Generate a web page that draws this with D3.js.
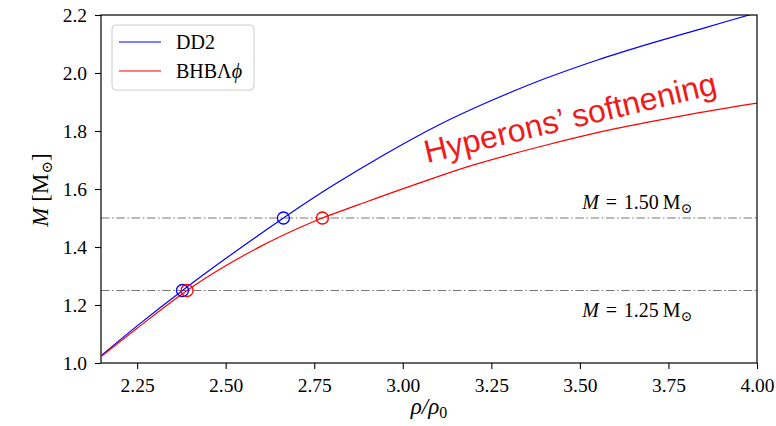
<!DOCTYPE html>
<meta charset="utf-8">
<style>
body { margin: 0; background: #fff; }
text { font-family: "Liberation Serif", "DejaVu Serif", serif; fill: #000; }
.legendLabel { font-size: 20px; }
.refLabel { font-size: 20px; }
.annot { font-family: "Liberation Sans", Arial, sans-serif; font-size: 32px; fill: #f01a1a; }
</style>
<svg width="776" height="426"></svg>
<script src="https://cdn.jsdelivr.net/npm/d3@7"></script>
<script>

// DD2 curve (rho/rho0, M)
const rhoDD2  = [2.15, 2.25, 2.378, 2.50, 2.663, 2.80, 2.95, 3.10, 3.25, 3.40, 3.55, 3.70, 3.85, 4.00];
const massDD2 = [1.027, 1.128, 1.25, 1.36, 1.50, 1.61, 1.72, 1.82, 1.905, 1.98, 2.045, 2.102, 2.155, 2.208];

// BHB Lambda phi curve
const rhoBHB  = [2.15, 2.25, 2.391, 2.50, 2.60, 2.70, 2.773, 2.90, 3.05, 3.20, 3.40, 3.60, 3.80, 4.00];
const massBHB = [1.024, 1.12, 1.25, 1.335, 1.403, 1.462, 1.50, 1.557, 1.622, 1.683, 1.750, 1.808, 1.855, 1.896];

// open circles where each curve crosses the reference masses
const markRhoDD2 = [2.378, 2.663];
const markRhoBHB = [2.391, 2.773];
const refMasses = [1.25, 1.50];
const refLabels = ["1.25", "1.50"];

const xTicks = [2.25, 2.50, 2.75, 3.00, 3.25, 3.50, 3.75, 4.00];
const yTicks = [1.0, 1.2, 1.4, 1.6, 1.8, 2.0, 2.2];

const svg = d3.select("svg");
const pLeft = 101, pRight = 757, pTop = 15, pBottom = 363;

const x = d3.scaleLinear().domain([2.148, 4.0]).range([pLeft, pRight]);
const y = d3.scaleLinear().domain([1.0, 2.2]).range([pBottom, pTop]);

svg.append("defs").append("clipPath").attr("id", "plotClip")
  .append("rect")
    .attr("x", pLeft).attr("y", pTop)
    .attr("width", pRight - pLeft).attr("height", pBottom - pTop);

const line = d3.line()
    .x(d => x(d[0]))
    .y(d => y(d[1]))
    .curve(d3.curveCatmullRom.alpha(0.5));

const plot = svg.append("g").attr("clip-path", "url(#plotClip)");

// dash-dot reference lines
plot.selectAll(".refLine")
    .data(refMasses)
    .enter().append("line")
    .attr("x1", pLeft).attr("x2", pRight)
    .attr("y1", d => y(d)).attr("y2", d => y(d))
    .attr("stroke", "#777")
    .attr("stroke-width", 1.1)
    .attr("stroke-dasharray", "8.5,2.6,1.6,2.6");

const series = [
  {rho: rhoDD2, m: massDD2, marks: markRhoDD2, color: "#0000ff"},
  {rho: rhoBHB, m: massBHB, marks: markRhoBHB, color: "#ff0000"}
];

series.forEach(s => {
  plot.append("path")
      .attr("d", line(s.rho.map((r, i) => [r, s.m[i]])))
      .attr("fill", "none")
      .attr("stroke", s.color)
      .attr("stroke-width", 1.2);
});

series.forEach(s => {
  plot.selectAll(null)
      .data(s.marks)
      .enter().append("circle")
      .attr("cx", d => x(d))
      .attr("cy", (d, i) => y(refMasses[i]))
      .attr("r", 6)
      .attr("fill", "none")
      .attr("stroke", s.color)
      .attr("stroke-width", 1.3);
});

// axes
const serif = "'Liberation Serif', 'DejaVu Serif', serif";
svg.append("g")
    .attr("class", "axis")
    .attr("transform", `translate(0,${pBottom})`)
    .call(d3.axisBottom(x).tickValues(xTicks).tickFormat(d3.format(".2f")).tickSize(6).tickPadding(9));
svg.append("g")
    .attr("class", "axis")
    .attr("transform", `translate(${pLeft},0)`)
    .call(d3.axisLeft(y).tickValues(yTicks).tickFormat(d3.format(".1f")).tickSize(6).tickPadding(8));
svg.selectAll(".axis").attr("font-family", serif).attr("font-size", 19.5);
svg.selectAll(".axis .domain").remove();
svg.selectAll(".axis .tick line").attr("stroke", "#000").attr("stroke-width", 1.1);
svg.selectAll(".axis .tick text")
    .style("font-family", serif)
    .style("font-size", "19.5px")
    .attr("fill", "#000");

// frame
svg.append("rect")
    .attr("x", pLeft).attr("y", pTop)
    .attr("width", pRight - pLeft).attr("height", pBottom - pTop)
    .attr("fill", "none")
    .attr("stroke", "#000")
    .attr("stroke-width", 1.2);

// reference line labels
refMasses.forEach((m, i) => {
  const t = svg.append("text")
      .attr("class", "refLabel")
      .attr("x", x(3.662))
      .attr("y", i === 0 ? y(1.16) : y(1.53))
      .attr("text-anchor", "middle");
  t.append("tspan").attr("font-style", "italic").text("M");
  t.append("tspan").text("\u2004=\u2004" + refLabels[i] + "\u2009M");
  t.append("tspan").attr("font-size", "14px").attr("dy", 4).text("\u2299");
});

// axis labels
const xl = svg.append("text")
    .attr("x", (pLeft + pRight) / 2)
    .attr("y", 414)
    .attr("text-anchor", "middle")
    .attr("font-size", "23px");
xl.append("tspan").attr("font-style", "italic").text("\u03c1/\u03c1");
xl.append("tspan").attr("font-size", "16px").attr("dy", 4).text("0");

const yl = svg.append("text")
    .attr("transform", "translate(48,190) rotate(-90)")
    .attr("text-anchor", "middle")
    .attr("font-size", "23px");
yl.append("tspan").attr("font-style", "italic").text("M");
yl.append("tspan").text(" [M");
yl.append("tspan").attr("font-size", "15px").attr("dy", 4).text("\u2299");
yl.append("tspan").attr("dy", -4).text("]");

// legend
const legend = svg.append("g");
legend.append("rect")
    .attr("x", 112).attr("y", 25)
    .attr("width", 142).attr("height", 65)
    .attr("rx", 4)
    .attr("fill", "#fff").attr("fill-opacity", 0.8)
    .attr("stroke", "#cccccc").attr("stroke-width", 1);
const legendNames = ["DD2", "BHB\u039b"];
series.forEach((s, i) => {
  const ly = 42 + i * 29;
  legend.append("line")
      .attr("x1", 119).attr("x2", 161)
      .attr("y1", ly).attr("y2", ly)
      .attr("stroke", s.color).attr("stroke-width", 1.2);
  const t = legend.append("text")
      .attr("class", "legendLabel")
      .attr("x", 176).attr("y", ly + 7)
      .text(legendNames[i]);
  if (i === 1) t.append("tspan").attr("font-style", "italic").text("\u03d5");
});

// annotation
svg.append("text")
    .attr("class", "annot")
    .attr("transform", "translate(427,163) rotate(-13.4)")
    .text("Hyperons\u2019 softnening");

</script>
